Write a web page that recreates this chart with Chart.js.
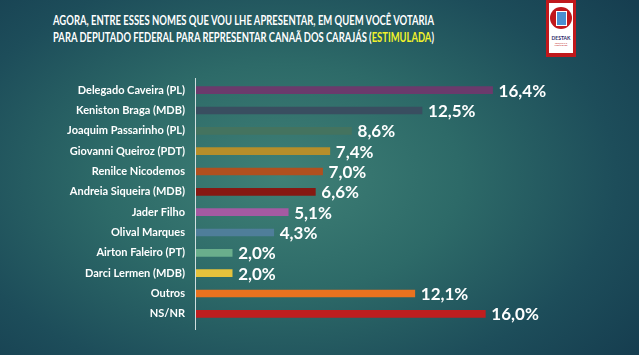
<!DOCTYPE html>
<html><head><meta charset="utf-8">
<script src="https://cdn.jsdelivr.net/npm/chart.js@4"></script>
<style>
html,body{margin:0;padding:0;}
body{width:639px;height:355px;overflow:hidden;position:relative;
background:radial-gradient(ellipse 70% 80% at 44% 50%, #3f8076 0%, #2d6a68 40%, #1d4d5a 75%, #163e50 100%);
font-family:Lato, "Open Sans", sans-serif;}
#c{position:absolute;left:0;top:0;}
.t{position:absolute;left:-157px;width:801px;text-align:center;color:#fff;font-weight:bold;white-space:nowrap;font-size:13px;font-family:Lato;transform-origin:400.5px 50%;}
.t span.y{color:#f2f22a;}
#logo{position:absolute;left:546px;top:0;width:30px;height:57px;background:#c0181c;}
#logo .in{position:absolute;left:3px;top:3px;width:24px;height:50px;background:#fff;}
#logo .circ{position:absolute;left:1px;top:4px;width:22px;height:22px;border-radius:50%;background:#c0181c;}
#logo .win{position:absolute;left:6px;top:4px;width:9px;height:13px;background:#4a8fd0;border:1px solid #fff;}
#logo .txt{position:absolute;left:0;top:32px;width:24px;text-align:center;font-size:5px;font-weight:bold;color:#2a2a6a;}
#logo .txt2{position:absolute;left:0;top:39px;width:24px;text-align:center;font-size:2px;color:#c0181c;}
</style></head>
<body>
<div class="t" id="t1" style="top:12px">AGORA, ENTRE ESSES NOMES QUE VOU LHE APRESENTAR, EM QUEM VOCÊ VOTARIA</div>
<div class="t" id="t2" style="top:29px">PARA DEPUTADO FEDERAL PARA REPRESENTAR CANAÃ DOS CARAJÁS (<span class="y">ESTIMULADA</span>)</div>
<div id="logo"><div class="in"><div class="circ"><div class="win"></div></div><div class="txt">DESTAK</div><div class="txt2">PESQUISAS E PUBLICIDADE</div></div></div>
<canvas id="c" width="639" height="355"></canvas>
<script>
const categories = ['Delegado Caveira (PL)','Keniston Braga (MDB)','Joaquim Passarinho (PL)','Giovanni Queiroz (PDT)','Renilce Nicodemos','Andreia Siqueira (MDB)','Jader Filho','Olival Marques','Airton Faleiro (PT)','Darci Lermen (MDB)','Outros','NS/NR'];
const values = [16.4,12.5,8.6,7.4,7.0,6.6,5.1,4.3,2.0,2.0,12.1,16.0];
const valueLabels = ['16,4%','12,5%','8,6%','7,4%','7,0%','6,6%','5,1%','4,3%','2,0%','2,0%','12,1%','16,0%'];
const barColors = ['#6b3a6c','#394e60','#44735f','#b68e2a','#b0501f','#861812','#a45aa2','#4f7e9a','#6aae8c','#e6c23c','#e9721f','#be1e1f'];

function fitTitles(){
  const target=381;
  ['t1','t2'].forEach(id=>{
    const el=document.getElementById(id);
    el.style.transform='none';
    const r=document.createRange();r.selectNodeContents(el);
    const w=r.getBoundingClientRect().width;
    if(w>0) el.style.transform='scaleX('+(target/w).toFixed(4)+')';
  });
}
fitTitles();

const labelPlugin={
  id:'valLabels',
  afterDatasetsDraw(chart){
    const ctx=chart.ctx;const meta=chart.getDatasetMeta(0);
    ctx.save();ctx.fillStyle='#ffffff';ctx.font='bold 17px Lato';ctx.textBaseline='middle';ctx.textAlign='left';
    meta.data.forEach((b,i)=>{ctx.fillText(valueLabels[i],b.x+6,b.y+1);});
    ctx.restore();
  }
};
const axisPlugin={
  id:'axisLine',
  afterDatasetsDraw(chart){
    const ctx=chart.ctx;const x=chart.chartArea.left-0.5;
    ctx.save();ctx.strokeStyle='rgba(225,235,235,0.9)';ctx.lineWidth=1;
    ctx.beginPath();ctx.moveTo(x,78);ctx.lineTo(x,330);ctx.stroke();ctx.restore();
  }
};

let chart;
function build(){
  if(chart) chart.destroy();
  chart=new Chart(document.getElementById('c'),{
    type:'bar',
    data:{labels:categories,datasets:[{data:values,backgroundColor:barColors,barThickness:7,borderWidth:0}]},
    options:{
      indexAxis:'y',responsive:false,animation:false,
      layout:{padding:{top:80,bottom:31,left:0,right:9}},
      plugins:{legend:{display:false},tooltip:{enabled:false}},
      scales:{
        x:{display:false,min:0,max:24},
        y:{
          afterFit(s){s.width=196;},
          grid:{display:false,drawTicks:false},border:{display:false},
          ticks:{color:'#ffffff',padding:11,font:{family:'Lato',weight:'bold',size:11}}
        }
      }
    },
    plugins:[labelPlugin,axisPlugin]
  });
}
build();
if(document.fonts){
  Promise.all([document.fonts.load('bold 13px Lato'),document.fonts.load('bold 17px Lato'),document.fonts.load('bold 11px Lato')]).then(()=>{fitTitles();build();});
}
</script>
</body></html>
